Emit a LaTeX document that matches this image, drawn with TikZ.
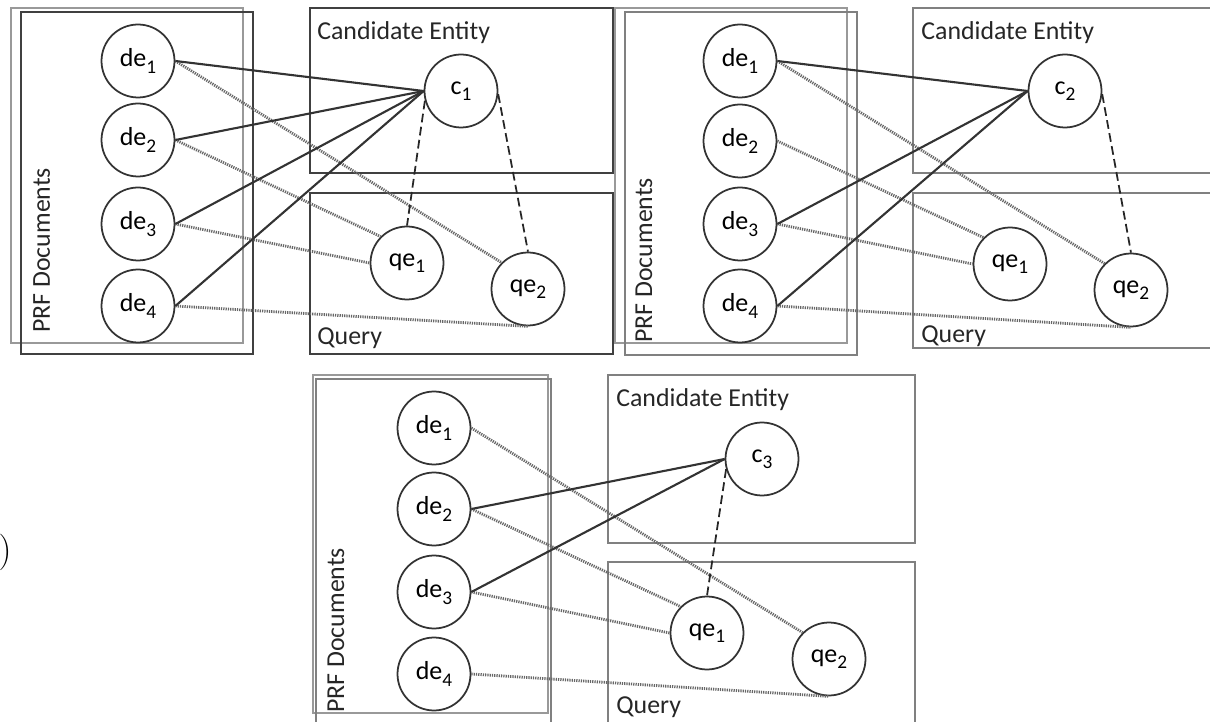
\documentclass[tikz,border=0pt]{standalone}
\usepackage{fontspec}
\setmainfont{Carlito}
\newcommand{\lowix}[1]{\raisebox{-3.6pt}{\fontsize{11}{12}\selectfont #1}}
\tikzset{
  ent/.style={draw=black!80,line width=1pt,circle,minimum size=1.46cm,inner sep=0pt,font=\fontsize{14.8}{17}\selectfont},
  boxa/.style={draw=black!75,line width=1.1pt},
  boxb/.style={draw=black!50,line width=0.8pt},
  backbox/.style={draw=black!40,line width=0.9pt},
  lbl/.style={inner sep=0pt,anchor=base west,text=black!85,font=\fontsize{14.7}{17}\selectfont},
  rel/.style={black!80,line width=1.2pt},
  qlink/.style={black!85,line width=1pt,dash pattern=on 5pt off 2.5pt},
  dlink/.style={black!60,line width=1.6pt,dash pattern=on 0.7pt off 0.6pt}
}
\begin{document}
\begin{tikzpicture}[x=0.02cm,y=-0.02cm]
\useasboundingbox (0,0) rectangle (1210,722);
\clip (0,0) rectangle (1210,722);
\node[inner sep=0pt,font=\fontsize{22}{26}\selectfont] (paren) at (5,552) {$)$};
% first panel
\draw[backbox] (11,8) rectangle (243,343);
\draw[boxa] (21,12) rectangle (253,354);
\draw[boxa] (310,8) rectangle (613,173);
\draw[boxa] (310,193) rectangle (613,354);
\node[lbl,rotate=90] (adocs) at (50,333) {PRF Documents};
\node[lbl] (acand) at (317,40) {Candidate Entity};
\node[lbl] (aquery) at (317,345) {Query};
\node[ent] (ade1) at (138,61) {de\lowix{1}};
\node[ent] (ade2) at (138,140) {de\lowix{2}};
\node[ent] (ade3) at (138,224) {de\lowix{3}};
\node[ent] (ade4) at (138,306) {de\lowix{4}};
\node[ent] (ac) at (461,91) {c\lowix{1}};
\node[ent] (aqe1) at (407,263) {qe\lowix{1}};
\node[ent] (aqe2) at (528,289) {qe\lowix{2}};
\draw[dlink](ade1.east)--(aqe2.north west);
\draw[dlink](ade2.east)--(aqe1.north west);
\draw[dlink](ade3.east)--(aqe1.west);
\draw[dlink](ade4.east)--(aqe2.south);
\draw[rel](ade1.east)--(ac.west);
\draw[rel](ade2.east)--(ac.west);
\draw[rel](ade3.east)--(ac.west);
\draw[rel](ade4.east)--(ac.west);
\draw[qlink](ac.195)--(aqe1.north);
\draw[qlink](ac.355)--(aqe2.north);
% second panel
\draw[backbox] (615,8) rectangle (847,343);
\draw[boxb] (625,12) rectangle (857,355);
\draw[boxb] (913,8) rectangle (1216,173);
\draw[boxb] (913,193) rectangle (1216,348);
\node[lbl,rotate=90] (bdocs) at (652,343) {PRF Documents};
\node[lbl] (bcand) at (921,40) {Candidate Entity};
\node[lbl] (bquery) at (921,343) {Query};
\node[ent] (bde1) at (740,61) {de\lowix{1}};
\node[ent] (bde2) at (740,141) {de\lowix{2}};
\node[ent] (bde3) at (740,224) {de\lowix{3}};
\node[ent] (bde4) at (740,306) {de\lowix{4}};
\node[ent] (bc) at (1065,91) {c\lowix{2}};
\node[ent] (bqe1) at (1010,264) {qe\lowix{1}};
\node[ent] (bqe2) at (1131,290) {qe\lowix{2}};
\draw[dlink](bde1.east)--(bqe2.north west);
\draw[dlink](bde2.east)--(bqe1.north west);
\draw[dlink](bde3.east)--(bqe1.west);
\draw[dlink](bde4.east)--(bqe2.south);
\draw[rel](bde1.east)--(bc.west);
\draw[rel](bde3.east)--(bc.west);
\draw[rel](bde4.east)--(bc.west);
\draw[qlink](bc.355)--(bqe2.north);
% third panel
\draw[backbox] (313,375) rectangle (548,713);
\draw[boxb] (316,379) rectangle (551,740);
\draw[boxb] (608,375) rectangle (915,543);
\draw[boxb] (608,562) rectangle (915,740);
\node[lbl,rotate=90] (cdocs) at (344,713) {PRF Documents};
\node[lbl] (ccand) at (616,407) {Candidate Entity};
\node[lbl] (cquery) at (616,713) {Query};
\node[ent] (cde1) at (434,428) {de\lowix{1}};
\node[ent] (cde2) at (434,509) {de\lowix{2}};
\node[ent] (cde3) at (434,592) {de\lowix{3}};
\node[ent] (cde4) at (434,674) {de\lowix{4}};
\node[ent] (cc) at (762,459) {c\lowix{3}};
\node[ent] (cqe1) at (707,633) {qe\lowix{1}};
\node[ent] (cqe2) at (829,659) {qe\lowix{2}};
\draw[dlink](cde1.east)--(cqe2.north west);
\draw[dlink](cde2.east)--(cqe1.north west);
\draw[dlink](cde3.east)--(cqe1.west);
\draw[dlink](cde4.east)--(cqe2.south);
\draw[rel](cde2.east)--(cc.west);
\draw[rel](cde3.east)--(cc.west);
\draw[qlink](cc.196)--(cqe1.north);
\end{tikzpicture}
\end{document}
